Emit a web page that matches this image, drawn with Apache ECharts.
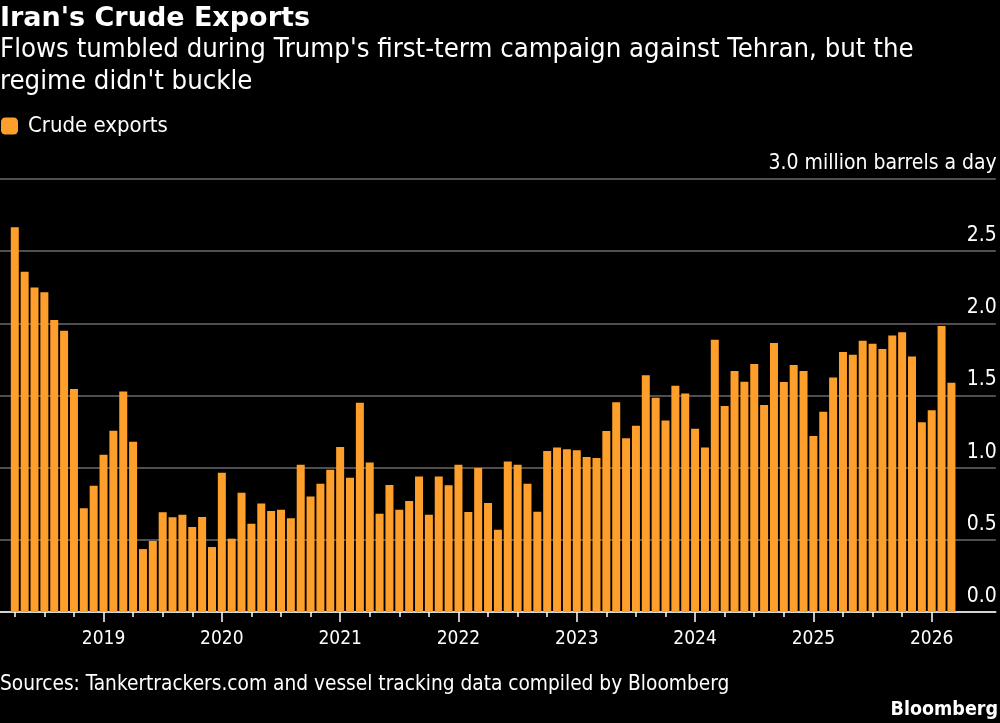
<!DOCTYPE html>
<html>
<head>
<meta charset="utf-8">
<title>Iran's Crude Exports</title>
<script src="https://cdn.jsdelivr.net/npm/echarts@6/dist/echarts.min.js"></script>
<style>
    html, body { margin: 0; padding: 0; background: #000; }
    #center { width: 1000px; height: 723px; }
</style>
</head>
<body>
<div id="center"></div>
<script>
// monthly, Apr 2018 - Mar 2026, million barrels a day
var exports2018 = [2.665, 2.358, 2.249, 2.215, 2.023, 1.949, 1.545, 0.718, 0.875];
var exports2019 = [1.09, 1.256, 1.527, 1.18, 0.436, 0.492, 0.691, 0.656, 0.674, 0.589, 0.658, 0.45];
var exports2020 = [0.965, 0.508, 0.827, 0.612, 0.751, 0.70, 0.709, 0.649, 1.021, 0.801, 0.889, 0.986];
var exports2021 = [1.143, 0.931, 1.45, 1.035, 0.681, 0.88, 0.709, 0.769, 0.938, 0.674, 0.938, 0.878];
var exports2022 = [1.021, 0.693, 0.998, 0.755, 0.57, 1.042, 1.021, 0.889, 0.695, 1.115, 1.139, 1.127];
var exports2023 = [1.12, 1.074, 1.067, 1.254, 1.453, 1.203, 1.291, 1.64, 1.485, 1.326, 1.568, 1.513];
var exports2024 = [1.27, 1.139, 1.887, 1.427, 1.67, 1.596, 1.718, 1.434, 1.864, 1.594, 1.711, 1.67];
var exports2025 = [1.219, 1.388, 1.624, 1.801, 1.783, 1.88, 1.859, 1.822, 1.915, 1.938, 1.771, 1.314];
var exports2026 = [1.397, 1.982, 1.589];
var yTicks = [0, 0.5, 1, 1.5, 2, 2.5, 3];

var FONT = '"DejaVu Sans Condensed", "DejaVu Sans", sans-serif';
var FONT_BOLD = '"DejaVu Sans", sans-serif';
var ORANGE = '#FF9F2B';

// one empty band before the first bar and four after the last, the rules run past the bars
var values = [null].concat(exports2018, exports2019, exports2020, exports2021,
    exports2022, exports2023, exports2024, exports2025, exports2026, [null, null, null, null]);
var categories = [''];
var year = 2018, month = 4;
for (var i = 1; i < values.length - 4; i++) {
    categories.push(year + '-' + (month < 10 ? '0' : '') + month);
    month++;
    if (month > 12) { month = 1; year++; }
}
categories.push('', '', '', '');

function isQuarter(index, value) {
    return value !== '' && (+value.split('-')[1]) % 3 === 1;
}
function isYear(index, value) {
    return value !== '' && value.split('-')[1] === '01';
}

var myChart = echarts.init(document.getElementById('center'));
myChart.setOption({
    backgroundColor: '#000',
    animation: false,
    title: [{
        text: "Iran's Crude Exports",
        left: 0, top: 5, padding: 0,
        textStyle: { color: '#fff', fontFamily: FONT_BOLD, fontSize: 27, fontWeight: 'bold' }
    }, {
        text: "Flows tumbled during Trump's first-term campaign against Tehran, but the\nregime didn't buckle",
        left: 0, top: 34, padding: 0,
        textStyle: { color: '#fff', fontFamily: FONT, fontSize: 27.3, fontWeight: 'normal', lineHeight: 32 }
    }, {
        text: 'Sources: Tankertrackers.com and vessel tracking data compiled by Bloomberg',
        left: 0, top: 674, padding: 0,
        textStyle: { color: '#fff', fontFamily: FONT, fontSize: 20.7, fontWeight: 'normal' }
    }, {
        text: 'Bloomberg',
        right: 2, top: 700, padding: 0,
        textStyle: { color: '#fff', fontFamily: FONT, fontSize: 19.5, fontWeight: 'bold' }
    }],
    legend: {
        left: 1, top: 115, padding: 0,
        itemWidth: 17, itemHeight: 17, itemGap: 10,
        icon: 'roundRect',
        textStyle: { color: '#fff', fontFamily: FONT, fontSize: 22, padding: [0, 0, 0, 5] },
        data: ['Crude exports']
    },
    grid: { left: -1.1, top: 179, width: 996.9, height: 433 },
    xAxis: [{
        type: 'category',
        position: 'bottom',
        data: categories,
        axisLine: { show: true, lineStyle: { color: '#fff', width: 1.5 } },
        axisTick: { show: true, alignWithLabel: true, interval: isQuarter, length: 5, lineStyle: { color: '#fff', width: 1.5 } },
        axisLabel: { show: false }
    }, {
        type: 'category',
        position: 'bottom',
        data: categories,
        axisLine: { show: false },
        axisTick: { show: true, alignWithLabel: true, interval: isYear, length: 10, lineStyle: { color: '#fff', width: 1.5 } },
        axisLabel: {
            show: true, interval: isYear, margin: 18,
            color: '#fff', fontFamily: FONT, fontSize: 19,
            formatter: function (value) { return value.split('-')[0]; }
        }
    }],
    yAxis: {
        type: 'value',
        position: 'right',
        min: 0, max: 3, interval: 0.5,
        axisLine: { show: false },
        axisTick: { show: false },
        splitLine: { show: true, lineStyle: { color: '#6a6a6a', width: 1.5 } },
        axisLabel: {
            inside: true, margin: -1,
            verticalAlign: 'bottom',
            padding: [0, 0, 5, 0],
            color: '#fff', fontFamily: FONT, fontSize: 21,
            formatter: function (v) {
                return v === yTicks[yTicks.length - 1] ? v.toFixed(1) + ' million barrels a day' : v.toFixed(1);
            }
        }
    },
    series: [{
        name: 'Crude exports',
        type: 'bar',
        barWidth: 8,
        itemStyle: { color: ORANGE },
        data: values
    }]
});
</script>
</body>
</html>
